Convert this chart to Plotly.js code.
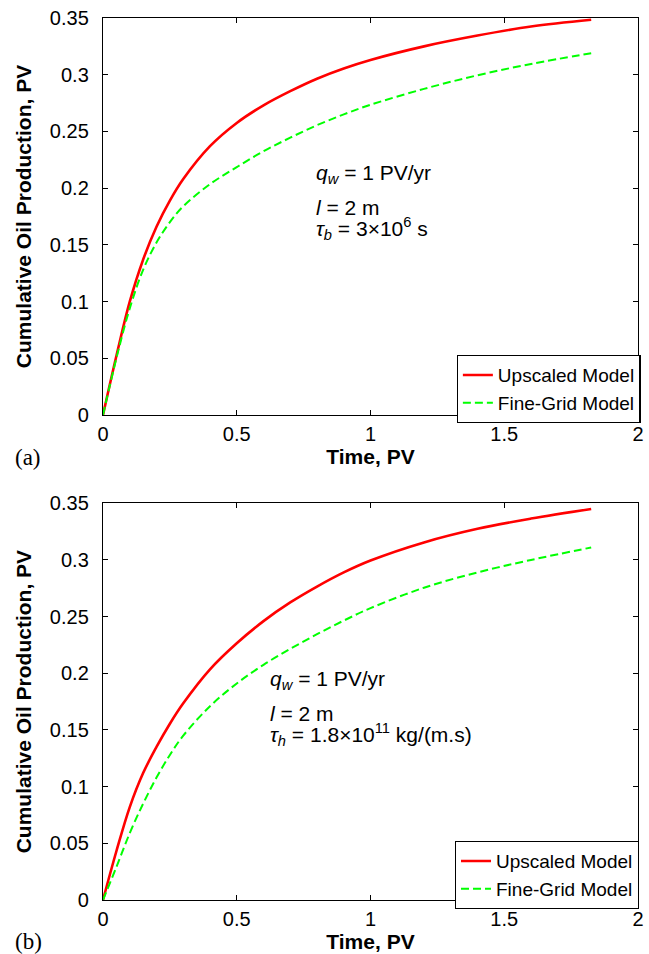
<!DOCTYPE html>
<html>
<head>
<meta charset="utf-8">
<script src="https://cdn.plot.ly/plotly-3.0.1.min.js"></script>
<style>
  html, body { margin: 0; padding: 0; background: #fff; }
  #chart { width: 649px; height: 954px; }
</style>
</head>
<body>
<div id="chart"></div>
<script>
// ---- Data ----
const time = [0, 0.05, 0.1, 0.15, 0.2, 0.25, 0.3, 0.4, 0.5, 0.6, 0.7, 0.8, 0.9, 1.0, 1.2, 1.4, 1.6, 1.825];

// Panel (a)
const upscaledA  = [0, 0.052, 0.100, 0.137, 0.166, 0.189, 0.208, 0.237, 0.2575, 0.273, 0.2855, 0.2965, 0.3055, 0.313, 0.325, 0.3345, 0.3425, 0.3485];
const fineGridA  = [0, 0.050, 0.094, 0.128, 0.152, 0.170, 0.184, 0.2035, 0.2185, 0.2325, 0.2445, 0.2555, 0.265, 0.2735, 0.2875, 0.2995, 0.3095, 0.319];

// Panel (b)
const upscaledB  = [0, 0.043, 0.082, 0.112, 0.135, 0.1555, 0.1735, 0.2035, 0.2265, 0.246, 0.2625, 0.2765, 0.289, 0.2995, 0.3155, 0.3275, 0.3365, 0.345];
const fineGridB  = [0, 0.029, 0.059, 0.085, 0.108, 0.128, 0.145, 0.171, 0.191, 0.2075, 0.2215, 0.2345, 0.2465, 0.2575, 0.2755, 0.289, 0.300, 0.311];

const seriesNames = ["Upscaled Model", "Fine-Grid Model"];

const xTickVals = [0, 0.5, 1, 1.5, 2];
const xTickText = ["0", "0.5", "1", "1.5", "2"];
const yTickVals = [0, 0.05, 0.1, 0.15, 0.2, 0.25, 0.3, 0.35];
const yTickText = ["0", "0.05", "0.1", "0.15", "0.2", "0.25", "0.3", "0.35"];

const xTitle = "Time, PV";
const yTitle = "Cumulative Oil Production, PV";
const panelLabels = ["(a)", "(b)"];
const annA = ["<i>q</i><sub><i>w</i></sub> = 1 PV/yr", "<i>l</i> = 2 m", "<i>τ</i><sub><i>b</i></sub> = 3×10<sup>6</sup> s"];
const annB = ["<i>q</i><sub><i>w</i></sub> = 1 PV/yr", "<i>l</i> = 2 m", "<i>τ</i><sub><i>h</i></sub> = 1.8×10<sup>11</sup> kg/(m.s)"];

// ---- Styling ----
const FONT = "Liberation Sans, Arial, Helvetica, sans-serif";
const red = "#ff0000";
const green = "#00ff00";

function tr(y, name, color, dash, width, xa, ya, legend) {
  return {
    x: time, y: y, name: name, type: "scatter", mode: "lines",
    line: { color: color, width: width, dash: dash, shape: "spline", smoothing: 1.0 },
    xaxis: xa, yaxis: ya, legend: legend, hoverinfo: "skip"
  };
}

const data = [
  tr(upscaledA, seriesNames[0], red, "solid", 2.6, "x", "y", "legend"),
  tr(fineGridA, seriesNames[1], green, "8px,4px", 2, "x", "y", "legend"),
  tr(upscaledB, seriesNames[0], red, "solid", 2.6, "x2", "y2", "legend2"),
  tr(fineGridB, seriesNames[1], green, "8px,4px", 2, "x2", "y2", "legend2")
];

function xax(anchor) {
  return {
    anchor: anchor, domain: [0, 1], range: [0, 2],
    tickmode: "array", tickvals: xTickVals, ticktext: xTickText,
    ticks: "inside", ticklen: 5, tickwidth: 1, tickcolor: "#000",
    showline: true, linecolor: "#000", linewidth: 1.2, mirror: "ticks",
    showgrid: false, zeroline: false, fixedrange: true,
    ticklabelstandoff: 1,
    tickfont: { family: FONT, size: 20, color: "#000" },
    title: { text: "<b>" + xTitle + "</b>", font: { family: FONT, size: 21, color: "#000" }, standoff: 2 }
  };
}
function yax(anchor, domain) {
  return {
    anchor: anchor, domain: domain, range: [0, 0.35],
    tickmode: "array", tickvals: yTickVals, ticktext: yTickText,
    ticks: "inside", ticklen: 5, tickwidth: 1, tickcolor: "#000",
    showline: true, linecolor: "#000", linewidth: 1.2, mirror: "ticks",
    showgrid: false, zeroline: false, fixedrange: true,
    ticklabelstandoff: 9,
    tickfont: { family: FONT, size: 20, color: "#000" },
    title: { text: "<b>" + yTitle + "</b>", font: { family: FONT, size: 21, color: "#000" }, standoff: 12 }
  };
}

function annLines(lines, xs, ys, xa, ya) {
  return lines.map((t, i) => ({
    text: t, x: xs, y: ys[i], xref: xa, yref: ya,
    xanchor: "left", yanchor: "middle", showarrow: false,
    font: { family: FONT, size: 21, color: "#000" }
  }));
}

const annotations = [].concat(
  annLines(annA, 0.79, [0.2127, 0.1826, 0.1648], "x", "y"),
  annLines(annB, 0.615, [0.1944, 0.1643, 0.1463], "x2", "y2"),
  [
    { text: panelLabels[0], x: -0.168, y: 0.502, xref: "paper", yref: "paper", xanchor: "left", yanchor: "middle",
      showarrow: false, font: { family: "Liberation Serif, Times New Roman, serif", size: 23, color: "#000" } },
    { text: panelLabels[1], x: -0.168, y: -0.047, xref: "paper", yref: "paper", xanchor: "left", yanchor: "middle",
      showarrow: false, font: { family: "Liberation Serif, Times New Roman, serif", size: 23, color: "#000" } }
  ]
);

function leg(x, y) {
  return {
    x: x, y: y, xanchor: "right", yanchor: "top", xref: "paper", yref: "paper",
    bgcolor: "#fff", bordercolor: "#000", borderwidth: 1.2,
    font: { family: FONT, size: 19, color: "#000" },
    tracegroupgap: 0, itemclick: false, itemdoubleclick: false
  };
}

const layout = {
  width: 649, height: 954,
  margin: { l: 103, r: 8, t: 18, b: 54 },
  paper_bgcolor: "#fff", plot_bgcolor: "#fff",
  showlegend: true,
  xaxis: xax("y"),
  yaxis: yax("x", [0.5499, 1]),
  xaxis2: xax("y2"),
  yaxis2: yax("x2", [0, 0.4498]),
  legend: leg(1.005, 0.618),
  legend2: leg(1.0015, 0.067),
  annotations: annotations
};

Plotly.newPlot("chart", data, layout, { staticPlot: true, displayModeBar: false });
</script>
</body>
</html>
